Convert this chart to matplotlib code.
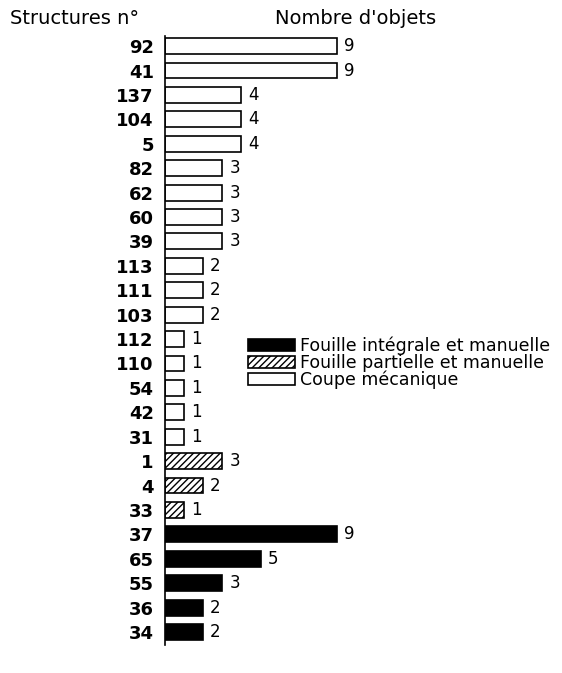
import matplotlib
matplotlib.use("Agg")
import matplotlib.pyplot as plt
from matplotlib.patches import Patch

structures = ["92", "41", "137", "104", "5", "82", "62", "60", "39", "113", "111", "103",
              "112", "110", "54", "42", "31", "1", "4", "33", "37", "65", "55", "36", "34"]
counts = [9, 9, 4, 4, 4, 3, 3, 3, 3, 2, 2, 2, 1, 1, 1, 1, 1, 3, 2, 1, 9, 5, 3, 2, 2]
methods = ["coupe"] * 17 + ["partielle"] * 3 + ["integrale"] * 5

styles = {
    "integrale": dict(facecolor="black", hatch=None),
    "partielle": dict(facecolor="white", hatch="/////"),
    "coupe": dict(facecolor="white", hatch=None),
}
legend_labels = {
    "integrale": "Fouille intégrale et manuelle",
    "partielle": "Fouille partielle et manuelle",
    "coupe": "Coupe mécanique",
}

plt.rcParams["font.family"] = ["DejaVu Sans"]
plt.rcParams["hatch.linewidth"] = 1.0

fig = plt.figure(figsize=(5.62, 6.73), dpi=100)
ax = fig.add_axes([0.2936, 0.041, 0.68, 0.905])

y = list(range(len(structures)))
for i, (c, m) in enumerate(zip(counts, methods)):
    st = styles[m]
    ax.barh(i, c, height=0.65, color=st["facecolor"], edgecolor="black",
            linewidth=1.2, hatch=st["hatch"])
    ax.annotate(str(c), (c, i), xytext=(5, 0), textcoords="offset points",
                va="center", ha="left", fontsize=12)

ax.set_xlim(0, 20)
ax.set_ylim(24.55, -0.4)
ax.set_yticks(y)
ax.set_yticklabels(structures, fontweight="bold", fontsize=13)
ax.tick_params(axis="y", length=0, pad=8)
ax.set_xticks([])
for s in ["top", "right", "bottom"]:
    ax.spines[s].set_visible(False)
ax.spines["left"].set_linewidth(1.2)

fig.text(10 / 562, 1 - 18 / 673, "Structures n°", fontsize=14, va="center", ha="left")
fig.text(275 / 562, 1 - 18 / 673, "Nombre d'objets", fontsize=14, va="center", ha="left")

handles = []
for key in ["integrale", "partielle", "coupe"]:
    st = styles[key]
    handles.append(Patch(facecolor=st["facecolor"], edgecolor="black", hatch=st["hatch"],
                         linewidth=1.2, label=legend_labels[key]))
fig.legend(handles=handles, loc="upper left", bbox_to_anchor=(239 / 562, 1 - 328 / 673),
           frameon=False, fontsize=12.5, handlelength=2.75, handleheight=0.7,
           labelspacing=-0.08, handletextpad=0.25, borderpad=0)

fig.savefig("out.png", dpi=100, facecolor="white")
